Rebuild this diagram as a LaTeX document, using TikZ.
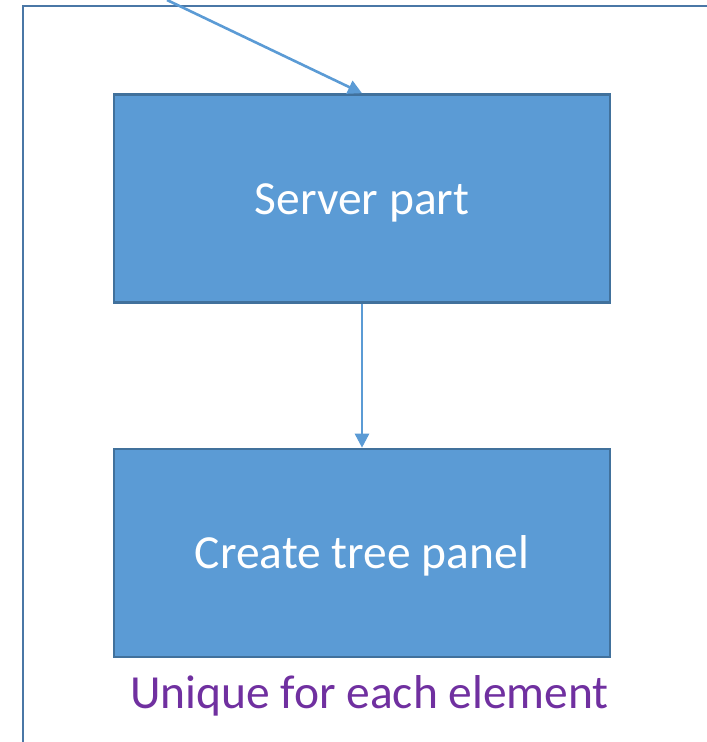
\documentclass[tikz,border=0pt]{standalone}
\usepackage{fontspec}
\setmainfont{Carlito}
\usetikzlibrary{arrows.meta}
\definecolor{boxfill}{HTML}{5B9BD5}
\definecolor{boxline}{HTML}{41719C}
\definecolor{frameline}{HTML}{4A77A6}
\definecolor{notepurple}{HTML}{7030A0}
\tikzset{
  stepbox/.style={draw=boxline, line width=2.6pt, fill=boxfill, text=white,
    minimum width=496pt, minimum height=208pt, inner sep=0pt,
    text height=31pt, text depth=0pt,
    font=\fontsize{47.5}{52}\selectfont},
  flow/.style={draw=boxfill, line width=2.6pt,
    -{Triangle[length=14pt,width=14pt]}},
  note/.style={text=notepurple, inner sep=0pt, anchor=base,
    font=\fontsize{47.5}{52}\selectfont}
}
\begin{document}
\begin{tikzpicture}[x=1pt,y=1pt]
\useasboundingbox (0,0) rectangle (707,-742);
\clip (0,0) rectangle (707,-742);
% surrounding frame, running past the right and bottom edges
\draw[frameline, line width=2.6pt] (23,-760) -- (23,-6) -- (720,-6);
\coordinate (from) at (167,0);
\node[stepbox] (server) at (362,-198.5) {Server part};
\node[stepbox] (tree) at (362,-553) {Create tree panel};
\node[note] (unique) at (369.5,-708) {Unique for each element};
\draw[flow] (from) -- (server.north);
\draw[flow] (server.south) -- (tree.north);
\end{tikzpicture}
\end{document}
